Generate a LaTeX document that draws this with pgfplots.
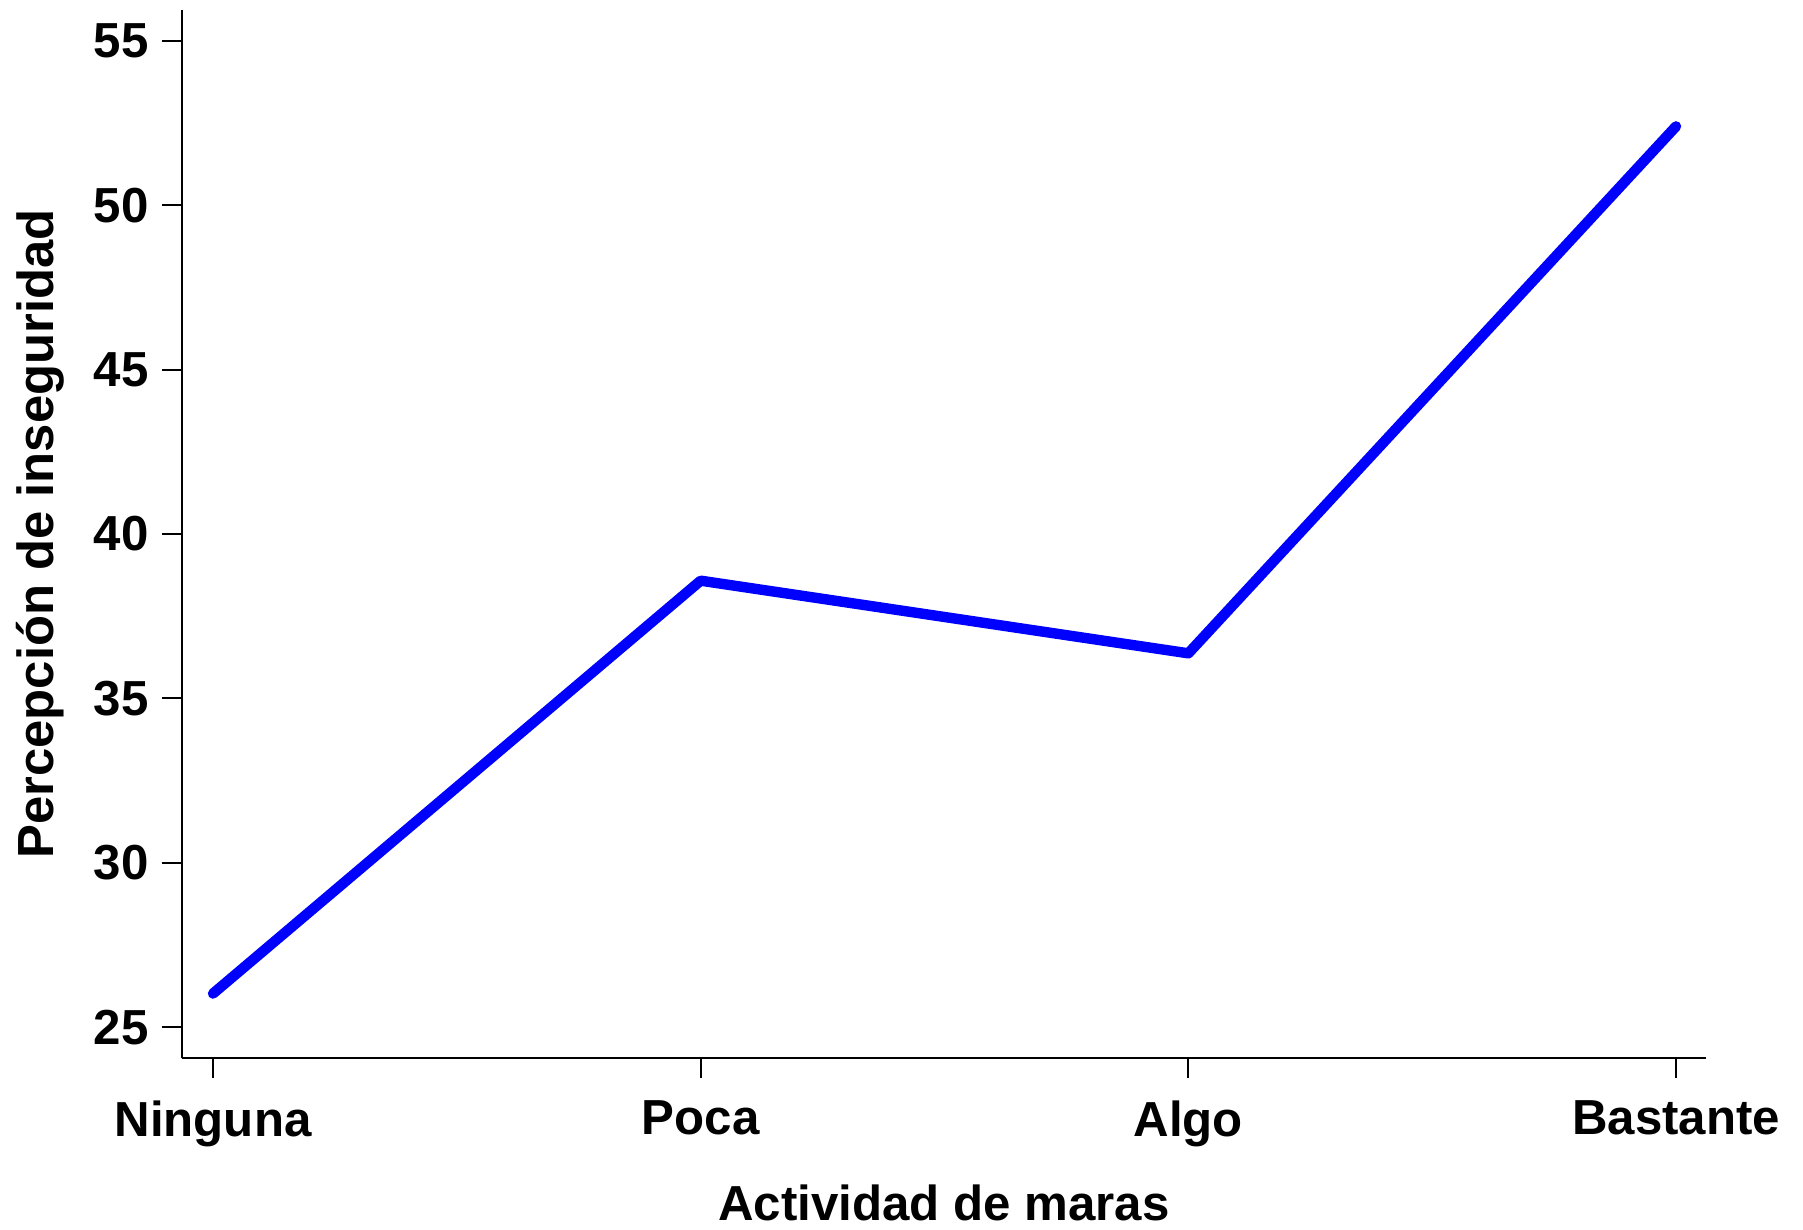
\documentclass[border=0pt]{standalone}
\usepackage{fontspec}
\setmainfont{Liberation Sans}
\usepackage{pgfplots}
\pgfplotsset{compat=1.18}
\begin{document}
\begin{tikzpicture}
\newcommand{\lf}{\fontsize{24.6}{29}\selectfont\bfseries}
\begin{axis}[
  at={(0,0)}, anchor=south west,
  scale only axis, width=762pt, height=524pt,
  xmin=-0.0636, xmax=3.0615, ymin=24.06, ymax=55.94,
  axis x line*=bottom, axis y line*=left,
  axis line style={line width=1pt, black},
  tick align=outside, tick style={line width=1pt, black},
  major tick length=10pt,
  xtick={0,1,2,3},
  xticklabels={Ninguna,Poca,Algo,Bastante},
  ytick={25,30,35,40,45,50,55},
  /pgf/number format/assume math mode=true,
  tick label style={font=\lf},
  yticklabel style={inner sep=0pt, xshift=-6.5pt},
  xticklabel style={inner sep=0pt, yshift=-11pt},
  clip=false,
]
\addplot[color={rgb,255:red,0;green,0;blue,255}, line width=5.2pt, line cap=round, line join=round] coordinates {
 (0,26.02) (1,38.58) (2,36.37) (3,52.40)
};
\end{axis}
\node[anchor=base, font=\lf] at (381pt,-81pt) {Actividad de maras};
\node[anchor=base, rotate=90, font=\fontsize{25.4}{30}\selectfont\bfseries] at (-64.5pt,262pt) {Percepción de inseguridad};
\pgfresetboundingbox
\useasboundingbox (-91pt,-86pt) rectangle (810.5pt,529pt);
\end{tikzpicture}
\end{document}
